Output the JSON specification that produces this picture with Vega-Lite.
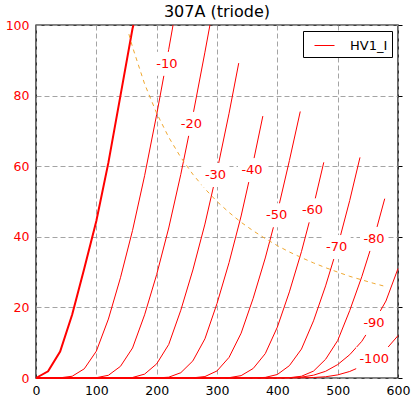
{
  "$schema": "https://vega.github.io/schema/vega-lite/v6.json",
  "width": 362,
  "height": 353,
  "autosize": {"type": "none"},
  "padding": {"left": 36, "top": 25, "right": 16, "bottom": 20},
  "background": "white",
  "title": {"text": "307A (triode)", "anchor": "middle", "offset": 4, "dy": 5, "fontSize": 16, "fontWeight": "normal", "font": "DejaVu Sans", "color": "black"},
  "config": {
    "font": "DejaVu Sans",
    "view": {"stroke": "black", "strokeWidth": 1.4},
    "axis": {"labelFont": "DejaVu Sans", "labelFontSize": 12.5, "domain": false, "tickSize": 0, "gridColor": "#9a9a9a", "gridDash": [5, 3], "gridWidth": 0.9, "labelFlush": false, "labelOverlap": false}
  },
  "datasets": {
    "curves": [
      {"g": 0, "v": 0, "i": 0}, {"g": 0, "v": 20, "i": 1.9}, {"g": 0, "v": 40, "i": 7.5}, {"g": 0, "v": 60, "i": 18}, {"g": 0, "v": 80, "i": 31}, {"g": 0, "v": 100, "i": 44.5}, {"g": 0, "v": 120, "i": 61}, {"g": 0, "v": 140, "i": 80}, {"g": 0, "v": 160, "i": 99}, {"g": 0, "v": 161.5, "i": 100},
      {"g": -10, "v": 0, "i": 0}, {"g": -10, "v": 40, "i": 0.06}, {"g": -10, "v": 60, "i": 0.5}, {"g": -10, "v": 80, "i": 2.6}, {"g": -10, "v": 100, "i": 7.6}, {"g": -10, "v": 120, "i": 16.7}, {"g": -10, "v": 140, "i": 28.4}, {"g": -10, "v": 160, "i": 41.8}, {"g": -10, "v": 180, "i": 57.3}, {"g": -10, "v": 200, "i": 74.6}, {"g": -10, "v": 220, "i": 93.1}, {"g": -10, "v": 227.2, "i": 100},
      {"g": -20, "v": 0, "i": 0}, {"g": -20, "v": 80, "i": 0}, {"g": -20, "v": 100, "i": 0.09}, {"g": -20, "v": 120, "i": 0.77}, {"g": -20, "v": 140, "i": 3.3}, {"g": -20, "v": 160, "i": 8.5}, {"g": -20, "v": 180, "i": 17.9}, {"g": -20, "v": 200, "i": 29.3}, {"g": -20, "v": 220, "i": 42.5}, {"g": -20, "v": 240, "i": 57.7}, {"g": -20, "v": 260, "i": 74.4}, {"g": -20, "v": 280, "i": 92.3}, {"g": -20, "v": 288.3, "i": 100},
      {"g": -30, "v": 0, "i": 0}, {"g": -30, "v": 120, "i": 0}, {"g": -30, "v": 140, "i": 0.01}, {"g": -30, "v": 160, "i": 0.15}, {"g": -30, "v": 180, "i": 1.1}, {"g": -30, "v": 200, "i": 4.0}, {"g": -30, "v": 220, "i": 9.5}, {"g": -30, "v": 240, "i": 19.2}, {"g": -30, "v": 260, "i": 30.6}, {"g": -30, "v": 280, "i": 43.6}, {"g": -30, "v": 300, "i": 58.6}, {"g": -30, "v": 320, "i": 75.0}, {"g": -30, "v": 336, "i": 89.2},
      {"g": -40, "v": 0, "i": 0}, {"g": -40, "v": 180, "i": 0}, {"g": -40, "v": 200, "i": 0.01}, {"g": -40, "v": 220, "i": 0.23}, {"g": -40, "v": 240, "i": 1.5}, {"g": -40, "v": 260, "i": 4.85}, {"g": -40, "v": 280, "i": 11.1}, {"g": -40, "v": 300, "i": 21.1}, {"g": -40, "v": 320, "i": 32.7}, {"g": -40, "v": 340, "i": 45.9}, {"g": -40, "v": 360, "i": 61.1}, {"g": -40, "v": 376, "i": 74.2},
      {"g": -50, "v": 0, "i": 0}, {"g": -50, "v": 240, "i": 0}, {"g": -50, "v": 260, "i": 0.05}, {"g": -50, "v": 280, "i": 0.41}, {"g": -50, "v": 300, "i": 2.0}, {"g": -50, "v": 320, "i": 5.85}, {"g": -50, "v": 340, "i": 12.7}, {"g": -50, "v": 360, "i": 22.6}, {"g": -50, "v": 380, "i": 34.0}, {"g": -50, "v": 400, "i": 46.9}, {"g": -50, "v": 420, "i": 61.6}, {"g": -50, "v": 438, "i": 75.5},
      {"g": -60, "v": 0, "i": 0}, {"g": -60, "v": 300, "i": 0}, {"g": -60, "v": 320, "i": 0.09}, {"g": -60, "v": 340, "i": 0.67}, {"g": -60, "v": 360, "i": 2.7}, {"g": -60, "v": 380, "i": 6.9}, {"g": -60, "v": 400, "i": 14.4}, {"g": -60, "v": 420, "i": 24.4}, {"g": -60, "v": 440, "i": 35.8}, {"g": -60, "v": 460, "i": 48.8}, {"g": -60, "v": 477, "i": 61.1},
      {"g": -70, "v": 0, "i": 0}, {"g": -70, "v": 340, "i": 0}, {"g": -70, "v": 360, "i": 0.02}, {"g": -70, "v": 380, "i": 0.17}, {"g": -70, "v": 400, "i": 0.99}, {"g": -70, "v": 420, "i": 3.5}, {"g": -70, "v": 440, "i": 8.2}, {"g": -70, "v": 460, "i": 16.2}, {"g": -70, "v": 480, "i": 26.1}, {"g": -70, "v": 500, "i": 37.3}, {"g": -70, "v": 520, "i": 50.3}, {"g": -70, "v": 537, "i": 62.5},
      {"g": -80, "v": 0, "i": 0}, {"g": -80, "v": 400, "i": 0}, {"g": -80, "v": 420, "i": 0.08}, {"g": -80, "v": 440, "i": 0.5}, {"g": -80, "v": 460, "i": 1.96}, {"g": -80, "v": 480, "i": 5.3}, {"g": -80, "v": 500, "i": 10.6}, {"g": -80, "v": 520, "i": 19.1}, {"g": -80, "v": 540, "i": 28.7}, {"g": -80, "v": 560, "i": 39.5}, {"g": -80, "v": 578, "i": 50.8},
      {"g": -90, "v": 0, "i": 0}, {"g": -90, "v": 400, "i": 0.02}, {"g": -90, "v": 420, "i": 0.08}, {"g": -90, "v": 440, "i": 0.25}, {"g": -90, "v": 460, "i": 0.8}, {"g": -90, "v": 480, "i": 1.9}, {"g": -90, "v": 500, "i": 3.8}, {"g": -90, "v": 520, "i": 6.6}, {"g": -90, "v": 540, "i": 10.4}, {"g": -90, "v": 560, "i": 15.8}, {"g": -90, "v": 580, "i": 21.8}, {"g": -90, "v": 600, "i": 31},
      {"g": -100, "v": 0, "i": 0}, {"g": -100, "v": 420, "i": 0}, {"g": -100, "v": 440, "i": 0.05}, {"g": -100, "v": 460, "i": 0.14}, {"g": -100, "v": 480, "i": 0.35}, {"g": -100, "v": 500, "i": 0.88}, {"g": -100, "v": 520, "i": 1.85}, {"g": -100, "v": 540, "i": 3.35}, {"g": -100, "v": 560, "i": 5.4}, {"g": -100, "v": 580, "i": 8.05}, {"g": -100, "v": 600, "i": 12.0}
    ],
    "pmax": [
      {"v": 154, "i": 97.4}, {"v": 160, "i": 93.75}, {"v": 180, "i": 83.3}, {"v": 200, "i": 75}, {"v": 220, "i": 68.2}, {"v": 240, "i": 62.5}, {"v": 260, "i": 57.7}, {"v": 280, "i": 53.6}, {"v": 300, "i": 50}, {"v": 320, "i": 46.9}, {"v": 340, "i": 44.1}, {"v": 360, "i": 41.7}, {"v": 380, "i": 39.5}, {"v": 400, "i": 37.5}, {"v": 420, "i": 35.7}, {"v": 440, "i": 34.1}, {"v": 460, "i": 32.6}, {"v": 480, "i": 31.25}, {"v": 500, "i": 30}, {"v": 520, "i": 28.8}, {"v": 540, "i": 27.8}, {"v": 560, "i": 26.8}, {"v": 580, "i": 25.9}
    ],
    "labels": [
      {"g": -10, "v": 217.1, "i": 89.0, "t": "-10"},
      {"g": -20, "v": 257.7, "i": 72.0, "t": "-20"},
      {"g": -30, "v": 297.5, "i": 57.5, "t": "-30"},
      {"g": -40, "v": 358, "i": 58.9, "t": "-40"},
      {"g": -50, "v": 399, "i": 46.1, "t": "-50"},
      {"g": -60, "v": 458.3, "i": 47.5, "t": "-60"},
      {"g": -70, "v": 498.4, "i": 37.1, "t": "-70"},
      {"g": -80, "v": 560.2, "i": 39.4, "t": "-80"},
      {"g": -90, "v": 560.2, "i": 15.6, "t": "-90"},
      {"g": -100, "v": 560.5, "i": 5.4, "t": "-100"}
    ]
  },
  "resolve": {"scale": {"y": "independent"}},
  "layer": [
    {
      "layer": [
        {
          "data": {"name": "curves"},
          "transform": [{"filter": "datum.g < 0"}],
          "mark": {"type": "line", "strokeWidth": 1},
          "encoding": {
            "x": {"field": "v", "type": "quantitative", "scale": {"domain": [0, 600], "nice": false, "zero": false}, "axis": {"values": [0, 100, 200, 300, 400, 500, 600], "grid": true, "labelColor": "black", "labelPadding": 6, "title": null}},
            "y": {"field": "i", "type": "quantitative", "scale": {"domain": [0, 100], "nice": false}, "axis": {"orient": "left", "values": [0, 20, 40, 60, 80, 100], "grid": true, "labelColor": "red", "labelPadding": 7, "title": null}},
            "detail": {"field": "g"},
            "color": {"datum": "HV1_I", "scale": {"range": ["red"]}, "legend": {"title": null, "orient": "top-right", "offset": 6, "symbolType": "stroke", "symbolSize": 400, "symbolStrokeWidth": 1, "symbolOffset": 7, "labelOffset": 15, "labelFontSize": 13, "labelFont": "DejaVu Sans", "labelColor": "black", "strokeColor": "black", "fillColor": "white", "padding": 4, "cornerRadius": 0}}
          }
        },
        {
          "data": {"name": "curves"},
          "transform": [{"filter": "datum.g == 0"}],
          "mark": {"type": "line", "strokeWidth": 2, "color": "red"},
          "encoding": {
            "x": {"field": "v", "type": "quantitative", "scale": {"domain": [0, 600], "nice": false, "zero": false}},
            "y": {"field": "i", "type": "quantitative", "scale": {"domain": [0, 100], "nice": false}}
          }
        },
        {
          "data": {"name": "pmax"},
          "mark": {"type": "line", "strokeWidth": 1, "color": "#f0a830", "strokeDash": [4, 4]},
          "encoding": {
            "x": {"field": "v", "type": "quantitative", "scale": {"domain": [0, 600], "nice": false, "zero": false}},
            "y": {"field": "i", "type": "quantitative", "scale": {"domain": [0, 100], "nice": false}}
          }
        },
        {
          "data": {"name": "labels"},
          "transform": [{"filter": "datum.g > -100"}],
          "mark": {"type": "point", "shape": "M-1,-0.857L1,-0.857L1,0.857L-1,0.857Z", "size": 784, "filled": true, "color": "white", "opacity": 1, "strokeWidth": 0},
          "encoding": {
            "x": {"field": "v", "type": "quantitative", "scale": {"domain": [0, 600], "nice": false, "zero": false}},
            "y": {"field": "i", "type": "quantitative", "scale": {"domain": [0, 100], "nice": false}}
          }
        },
        {
          "data": {"name": "labels"},
          "transform": [{"filter": "datum.g == -100"}],
          "mark": {"type": "point", "shape": "M-1,-0.667L1,-0.667L1,0.667L-1,0.667Z", "size": 1296, "filled": true, "color": "white", "opacity": 1, "strokeWidth": 0},
          "encoding": {
            "x": {"field": "v", "type": "quantitative", "scale": {"domain": [0, 600], "nice": false, "zero": false}},
            "y": {"field": "i", "type": "quantitative", "scale": {"domain": [0, 100], "nice": false}}
          }
        }
      ]
    },
    {
      "data": {"name": "labels"},
      "mark": {"type": "text", "fontSize": 13, "font": "DejaVu Sans", "color": "red", "align": "center", "baseline": "middle"},
      "encoding": {
        "x": {"field": "v", "type": "quantitative", "scale": {"domain": [0, 600], "nice": false, "zero": false}},
        "y": {"field": "i", "type": "quantitative", "scale": {"domain": [0, 100], "nice": false}, "axis": {"orient": "right", "values": [0, 20, 40, 60, 80, 100], "labels": false, "grid": false, "domain": false, "ticks": true, "tickSize": 4, "tickColor": "black", "tickWidth": 1, "title": null}},
        "text": {"field": "t"}
      }
    }
  ]
}
